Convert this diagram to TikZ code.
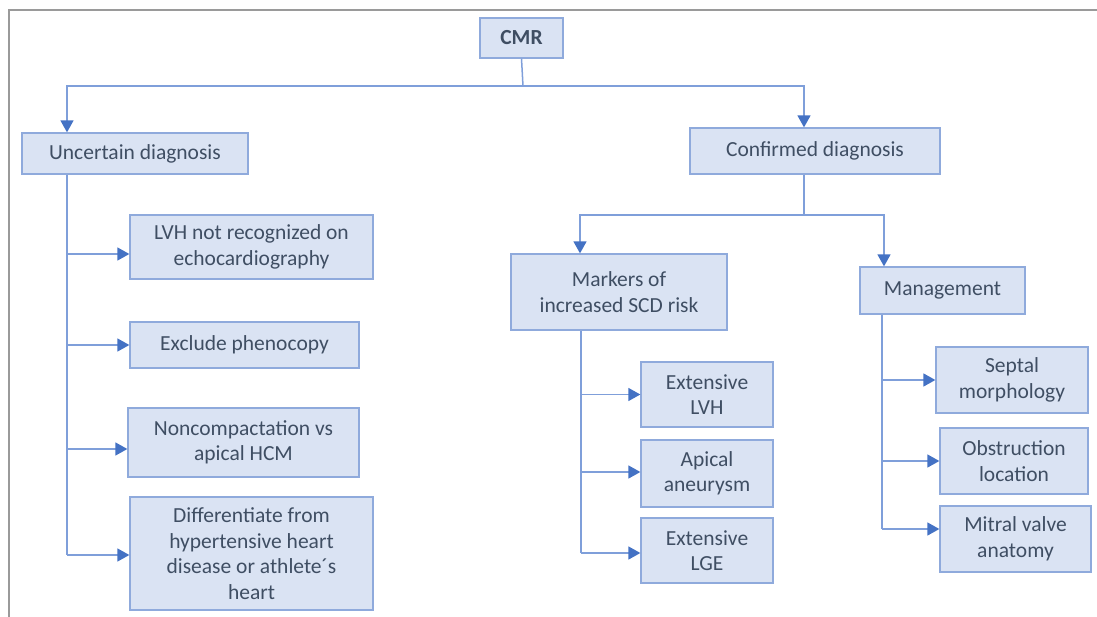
\documentclass[tikz,border=0pt]{standalone}
\usepackage{fontspec}
\setmainfont{Carlito}
\usetikzlibrary{arrows.meta}
\definecolor{boxfill}{HTML}{DAE3F3}
\definecolor{boxline}{HTML}{8FAADC}
\definecolor{linkline}{HTML}{7F9FDA}
\definecolor{tipblue}{HTML}{4472C4}
\definecolor{txt}{HTML}{3F4E63}
\definecolor{frame}{HTML}{9A9A9A}
\tikzset{
  box/.style={draw=boxline, fill=boxfill, line width=1.3pt, align=center,
    text=txt, inner sep=0pt, font=\fontsize{21.5}{25.5}\selectfont},
  link/.style={draw=linkline, line width=1.5pt},
  arr/.style={link, -{Triangle[length=12pt, width=13pt, color=tipblue]}},
}
\newcommand{\boxat}[6]{% name, x1, y1, x2, y2, text
  \node[box, minimum width=#4pt-#2pt, minimum height=#5pt-#3pt]
    (#1) at ({(#2+#4)/2}, {(#3+#5)/2}) {#6};}
\begin{document}
\begin{tikzpicture}[x=1pt, y=-1pt]
\useasboundingbox (0,0) rectangle (1097,617);
% page frame
\draw[frame, line width=1.6pt] (9,617) -- (9,10) -- (1097,10);

% boxes
\boxat{cmr}{480}{18}{563}{58}{\textbf{CMR}}
\boxat{unc}{22}{133}{248}{174}{Uncertain diagnosis}
\boxat{conf}{690}{128}{940}{174}{Confirmed diagnosis}
\boxat{lvh}{130}{215}{373}{279}{LVH not recognized on\\echocardiography}
\boxat{excl}{130}{322}{359}{368}{Exclude phenocopy}
\boxat{nonc}{128}{408}{359}{477}{Noncompactation vs\\apical HCM}
\boxat{diff}{130}{497}{373}{610}{Differentiate from\\hypertensive heart\\disease or athlete´s\\heart}
\boxat{mark}{511}{254}{727}{330}{Markers of\\increased SCD risk}
\boxat{mgmt}{860}{267}{1025}{314}{Management}
\boxat{elvh}{641}{362}{773}{427}{Extensive\\LVH}
\boxat{aneu}{641}{440}{773}{507}{Apical\\aneurysm}
\boxat{elge}{641}{518}{773}{583}{Extensive\\LGE}
\boxat{sept}{936}{347}{1088}{413}{Septal\\morphology}
\boxat{obst}{940}{428}{1088}{494}{Obstruction\\location}
\boxat{mitr}{940}{506}{1091}{572}{Mitral valve\\anatomy}

% junctions and trunk columns
\coordinate (top) at (523,86);
\coordinate (uL) at (67,86);
\coordinate (cR) at (804,86);
\coordinate (mid) at (804,215);
\coordinate (mL) at (580,215);
\coordinate (mR) at (884,215);
\coordinate (uT) at (67,0);
\coordinate (mT) at (581,0);
\coordinate (gT) at (882,0);

% CMR split
\draw[link] (cmr.south) -- (top);
\draw[arr] (top) -- (uL) -- (uL |- unc.north);
\draw[arr] (top) -- (cR) -- (cR |- conf.north);

% confirmed split
\draw[link] (conf.south -| mid) -- (mid);
\draw[arr] (mid) -- (mL) -- (mL |- mark.north);
\draw[arr] (mid) -- (mR) -- (mR |- mgmt.north);

% uncertain diagnosis branch
\draw[link] (uT |- unc.south) -- (uT |- 0,555);
\draw[arr] (uT |- 0,254) -- (lvh.west |- 0,254);
\draw[arr] (uT |- excl.west) -- (excl.west);
\draw[arr] (uT |- 0,449) -- (nonc.west |- 0,449);
\draw[arr] (uT |- 0,555) -- (diff.west |- 0,555);

% SCD risk markers branch
\draw[link] (mT |- mark.south) -- (mT |- 0,553);
\draw[arr] (mT |- elvh.west) -- (elvh.west);
\draw[arr] (mT |- 0,472) -- (aneu.west |- 0,472);
\draw[arr] (mT |- 0,553) -- (elge.west |- 0,553);

% management branch
\draw[link] (gT |- mgmt.south) -- (gT |- 0,529);
\draw[arr] (gT |- sept.west) -- (sept.west);
\draw[arr] (gT |- obst.west) -- (obst.west);
\draw[arr] (gT |- 0,529) -- (mitr.west |- 0,529);
\end{tikzpicture}
\end{document}
